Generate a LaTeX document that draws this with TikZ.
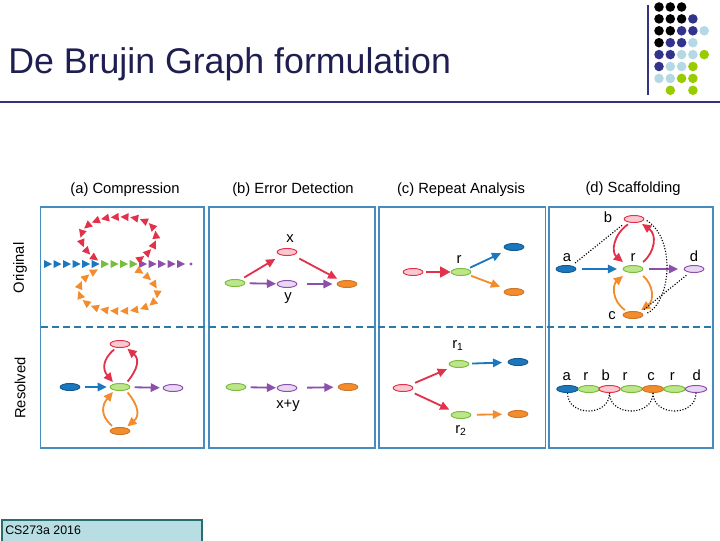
\documentclass[tikz,border=0pt]{standalone}
\usepackage{fontspec}
\setmainfont{Liberation Sans}
\usetikzlibrary{arrows.meta, shapes.geometric, decorations.markings}

\definecolor{titlecol}{RGB}{30,30,80}
\definecolor{navy}{RGB}{51,51,128}
\definecolor{dotk}{RGB}{0,0,0}
\definecolor{dotn}{RGB}{51,51,140}
\definecolor{dotl}{RGB}{180,216,228}
\definecolor{dotg}{RGB}{153,204,0}
\definecolor{frame}{RGB}{70,140,190}
\definecolor{dashcol}{RGB}{45,120,165}
\definecolor{cblue}{RGB}{28,120,190}
\definecolor{cgreen}{RGB}{120,190,60}
\definecolor{lgreen}{RGB}{190,228,140}
\definecolor{cred}{RGB}{226,50,75}
\definecolor{lred}{RGB}{250,200,208}
\definecolor{cpurple}{RGB}{140,80,170}
\definecolor{lpurple}{RGB}{232,215,242}
\definecolor{corange}{RGB}{243,140,45}
\definecolor{footfill}{RGB}{184,222,228}
\definecolor{footline}{RGB}{40,110,110}

\begin{document}
\begin{tikzpicture}[x=0.025cm, y=0.025cm,
  contig/.style={ellipse, minimum width=14pt, minimum height=5pt, inner sep=0pt, line width=0.7pt},
  bctg/.style={contig, draw=cblue!75!black, fill=cblue},
  gctg/.style={contig, draw=cgreen, fill=lgreen},
  rctg/.style={contig, draw=cred, fill=lred},
  pctg/.style={contig, draw=cpurple, fill=lpurple},
  octg/.style={contig, draw=corange!85!black, fill=corange},
  lab/.style={font=\fontsize{10.5}{12}\selectfont, inner sep=0pt},
  link/.style={line width=1.3pt, -{Triangle[length=6.5pt,width=6pt]}, shorten <=3pt, shorten >=2pt},
  rlink/.style={link, cred},
  blink/.style={link, cblue},
  plink/.style={link, cpurple},
  olink/.style={link, corange},
  scaf/.style={line width=0.8pt, dash pattern=on 0.8pt off 1.2pt},
  panel/.style={draw=frame, line width=1.1pt},
  loopmarks/.style={decoration={markings, mark=between positions 0.03 and 0.99 step 0.0625 with {\fill[#1] (-4,-4) -- (4,0) -- (-4,4) -- cycle;}}, decorate}
]
\useasboundingbox (0,0) rectangle (720,540);

\node [font=\fontsize{25.4}{30}\selectfont, text=titlecol, anchor=base west, inner sep=0pt] (title) at (8,466) {De Brujin Graph formulation};
\draw [navy, line width=2.1pt] (0,438) -- (720,438);
\draw [navy, line width=2.1pt] (648,535) -- (648,445);
\foreach \r/\cl in {0/{dotk,dotk,dotk},1/{dotk,dotk,dotk,dotn},2/{dotk,dotk,dotn,dotn,dotl},3/{dotk,dotn,dotn,dotl},4/{dotn,dotn,dotl,dotl,dotg},5/{dotn,dotl,dotl,dotg},6/{dotl,dotl,dotg,dotg}}
  \foreach \c [count=\i from 0] in \cl
    \fill [\c] (659+11.3*\i,533-11.9*\r) circle (3.4pt);
\fill [dotg] (670.3,449.7) circle (3.4pt);
\fill [dotg] (692.9,449.7) circle (3.4pt);

\draw [panel] (40.7,333) rectangle (204,92);
\draw [panel] (209,333) rectangle (375,92);
\draw [panel] (379,333) rectangle (545.5,92);
\draw [panel] (549,333) rectangle (713,92);
\draw [dashcol, line width=1.1pt, dash pattern=on 5pt off 3pt] (40.7,213) -- (713,213);

\node [lab, anchor=base] (ha) at (125,346) {(a) Compression};
\node [lab, anchor=base] (hb) at (293,346) {(b) Error Detection};
\node [lab, anchor=base] (hc) at (461,346) {(c) Repeat Analysis};
\node [lab, anchor=base] (hd) at (633,347) {(d) Scaffolding};
\node [lab, rotate=90] (orig) at (20,272) {Original};
\node [lab, rotate=90] (resv) at (20,152) {Resolved};

\foreach \x in {0,...,5}
  \fill [cblue] (44+9.5*\x,272) -- (52+9.5*\x,276) -- (44+9.5*\x,280) -- cycle;
\foreach \x in {0,...,3}
  \fill [cgreen] (101+9.5*\x,272) -- (109+9.5*\x,276) -- (101+9.5*\x,280) -- cycle;
\foreach \x in {0,...,4}
  \fill [cpurple] (139+9.5*\x,272) -- (147+9.5*\x,276) -- (139+9.5*\x,280) -- cycle;
\fill [cpurple] (191,276) circle (1.1pt);
\path [loopmarks=cred] (137,279) .. controls (168,298) and (160,324) .. (120,323) .. controls (82,323) and (66,300) .. (99,279);
\path [loopmarks=corange] (136,271) .. controls (172,250) and (160,228) .. (118,229) .. controls (78,229) and (64,255) .. (99,271);

\node [rctg] (a1) at (120,196) {};
\node [bctg] (a2) at (70,153) {};
\node [gctg] (a3) at (120,153) {};
\node [pctg] (a4) at (173,152) {};
\node [octg] (a5) at (120,109) {};
\draw [blink] (a2) -- (a3);
\draw [plink] (a3) -- (a4);
\draw [rlink, shorten <=2pt, shorten >=1.5pt] (a1.225) to[out=220, in=130, looseness=1.3] (a3.150);
\draw [rlink, shorten <=2pt, shorten >=1.5pt] (a3.30) to[out=50, in=-40, looseness=1.3] (a1.330);
\draw [olink, shorten <=2pt, shorten >=1.5pt] (a5.150) to[out=140, in=-130, looseness=1.3] (a3.210);
\draw [olink, shorten <=2pt, shorten >=1.5pt] (a3.330) to[out=-50, in=40, looseness=1.3] (a5.30);

\node [rctg] (b1) at (287,288) {};
\node [lab, anchor=base] (bx) at (290,298) {x};
\node [gctg] (b2) at (235,257) {};
\node [pctg] (b3) at (287,256) {};
\node [lab, anchor=base] (by) at (288,240) {y};
\node [octg] (b4) at (347,256) {};
\draw [rlink, shorten >=5pt] (b2) -- (b1);
\draw [rlink, shorten <=5pt, shorten >=3pt] (b1) -- (b4);
\draw [plink, shorten >=0.5pt] (b2) -- (b3);
\draw [plink, shorten <=7pt, shorten >=3pt] (b3) -- (b4);
\node [gctg] (b5) at (236,153) {};
\node [pctg] (b6) at (287,152) {};
\node [octg] (b7) at (348,153) {};
\node [lab, anchor=base] (bxy) at (288,132) {x+y};
\draw [plink, shorten >=0.5pt] (b5) -- (b6);
\draw [plink, shorten <=7pt, shorten >=3pt] (b6) -- (b7);

\node [rctg] (c1) at (413,268) {};
\node [gctg] (c2) at (461,268) {};
\node [lab, anchor=base] (cr) at (459,277) {r};
\node [bctg] (c3) at (514,293) {};
\node [octg] (c4) at (514,248) {};
\draw [cred, line width=2pt, -{Triangle[length=7.5pt,width=7.5pt]}, shorten <=2pt, shorten >=0pt] (c1) -- (c2);
\draw [blink, shorten <=2pt, shorten >=5pt] (c2) -- (c3);
\draw [olink, shorten <=2pt, shorten >=5pt] (c2) -- (c4);
\node [lab, anchor=base] (cr1) at (458,192) {r\textsubscript{1}};
\node [gctg] (c5) at (459,176) {};
\node [bctg] (c6) at (518,178) {};
\node [rctg] (c7) at (403,152) {};
\node [gctg] (c8) at (461,125) {};
\node [octg] (c9) at (518,126) {};
\node [lab, anchor=base] (cr2) at (461,107) {r\textsubscript{2}};
\draw [rlink, shorten <=4pt, shorten >=4pt] (c7) -- (c5);
\draw [rlink, shorten <=4pt, shorten >=4pt] (c7) -- (c8);
\draw [blink, shorten <=2pt, shorten >=4pt] (c5) -- (c6);
\draw [olink, shorten <=4pt, shorten >=4pt] (c8) -- (c9);

\node [rctg] (d1) at (634,321) {};
\node [lab, anchor=base] (dlb) at (608,317) {b};
\node [bctg] (d2) at (566,271) {};
\node [lab, anchor=base] (dla) at (567,279) {a};
\node [gctg] (d3) at (633,271) {};
\node [lab, anchor=base] (dlr) at (633,279) {r};
\node [pctg] (d4) at (694,271) {};
\node [lab, anchor=base] (dld) at (694,279) {d};
\node [octg] (d5) at (633,225) {};
\node [lab, anchor=base] (dlc) at (612,221) {c};
\draw [blink, shorten <=4pt, shorten >=4pt] (d2) -- (d3);
\draw [plink, shorten <=4pt, shorten >=4pt] (d3) -- (d4);
\draw [rlink, shorten <=2pt, shorten >=4pt] (d1.225) to[out=215, in=140, looseness=1.25] (d3.150);
\draw [rlink, shorten <=4pt, shorten >=2pt] (d3.30) to[out=40, in=-35, looseness=1.25] (d1.330);
\draw [olink, shorten <=2pt, shorten >=4pt] (d5.150) to[out=145, in=-140, looseness=1.25] (d3.210);
\draw [olink, shorten <=4pt, shorten >=2pt] (d3.330) to[out=-40, in=35, looseness=1.25] (d5.30);
\draw [scaf, shorten <=3pt, shorten >=3pt] (d2.30) -- (d1.200);
\draw [scaf, shorten <=2pt, shorten >=2pt] (d1.east) .. controls +(32,-20) and +(28,12) .. (d5.east);
\draw [scaf, shorten <=3pt, shorten >=2pt] (d4.220) -- (d5.20);

\foreach \nm/\st/\x/\t/\lx in {ea/bctg/567.5/a/566.7, er1/gctg/589/r/585.7, eb/rctg/609.5/b/605.7, er2/gctg/631.5/r/625, ec/octg/653/c/651, er3/gctg/674.5/r/672.3, ed/pctg/696/d/696.7}{
  \node [\st, minimum width=15.2pt, minimum height=5pt] (\nm) at (\x,151) {};
  \node [lab, anchor=base] (l\nm) at (\lx,160) {\t};
}
\draw [scaf] (ea.south) .. controls +(0,-24) and +(0,-24) .. (eb.south);
\draw [scaf] (eb.south) .. controls +(0,-24) and +(0,-24) .. (ec.south);
\draw [scaf] (ec.south) .. controls +(0,-24) and +(0,-24) .. (ed.south);

\draw [footline, fill=footfill, line width=1.1pt] (2,-2) rectangle (202,20);
\node [anchor=west, font=\fontsize{8.8}{10}\selectfont, inner sep=0pt] (foot) at (5,10) {CS273a 2016};
\end{tikzpicture}
\end{document}
